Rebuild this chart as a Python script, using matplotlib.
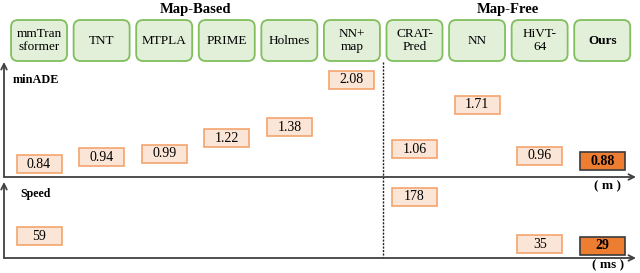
import matplotlib.pyplot as plt
from matplotlib.patches import Rectangle, FancyBboxPatch
from matplotlib.transforms import ScaledTranslation, blended_transform_factory

# ------------------------------------------------------------------------------------- #
# data
methods = ["mmTran\nsformer", "TNT", "MTPLA", "PRIME", "Holmes",
           "NN+\nmap", "CRAT-\nPred", "NN", "HiVT-\n64", "Ours"]
groups = ["Map-Based", "Map-Free"]
group_centers = [2.5, 7.5]
minade = [0.84, 0.94, 0.99, 1.22, 1.38, 2.08, 1.06, 1.71, 0.96, 0.88]
speed_idx = [0, 6, 8, 9]
speed = [59, 178, 35, 29]
ours = 9

# ------------------------------------------------------------------------------------- #
plt.rcParams['font.family'] = ['Liberation Serif', 'DejaVu Serif']

W, H = 640, 273
fig = plt.figure(figsize=(6.4, 2.73), dpi=100)

def fx(px):
    return px / W

def fy(py):
    return 1 - py / H

left, right = 4, 636
ax_top = fig.add_axes([fx(left), fy(177), fx(right - left), (177 - 62) / H])
ax_bot = fig.add_axes([fx(left), fy(258), fx(right - left), (258 - 182) / H])

xlim = (-0.56, 9.54)
ax_top.set_xlim(xlim)
ax_top.set_ylim(0.65, 2.34)
ax_bot.set_xlim(xlim)
ax_bot.set_ylim(-7.5, 223.5)

axis_col = '#404040'
for ax in (ax_top, ax_bot):
    ax.set_axis_off()
    ax.annotate('', xy=(0, 1), xytext=(0, 0), xycoords='axes fraction',
                arrowprops=dict(arrowstyle='->', color=axis_col, lw=1.3,
                                shrinkA=0, shrinkB=0))
    ax.annotate('', xy=(1, 0), xytext=(0, 0), xycoords='axes fraction',
                arrowprops=dict(arrowstyle='->', color=axis_col, lw=1.3,
                                shrinkA=0, shrinkB=0))

def value_box(ax, x, v, is_ours):
    # box size fixed in inches, placed at the data point
    w, h = 0.45, 0.18
    tr = fig.dpi_scale_trans + ScaledTranslation(x, v, ax.transData)
    if is_ours:
        fc, ec, weight = '#ed7d31', '#3a3a3a', 'bold'
    else:
        fc, ec, weight = '#fbe5d6', '#f4a46e', 'normal'
    ax.add_patch(Rectangle((-w / 2, -h / 2), w, h, transform=tr,
                           facecolor=fc, edgecolor=ec, lw=1.2, clip_on=False))
    ax.text(x, v, f"{v:g}" if isinstance(v, int) else f"{v:.2f}",
            ha='center', va='center', fontsize=10, fontweight=weight,
            color='black', clip_on=False)

for i, v in enumerate(minade):
    value_box(ax_top, i, v, i == ours)
for i, v in zip(speed_idx, speed):
    value_box(ax_bot, i, v, i == ours)

# header boxes
hdr = blended_transform_factory(ax_top.transData, fig.transFigure)
for i, name in enumerate(methods):
    tr = fig.dpi_scale_trans + ScaledTranslation(i, fy(40.5), hdr)
    bw, bh = 0.56, 0.41
    fig.add_artist(FancyBboxPatch((-bw / 2 + 0.05, -bh / 2 + 0.05), bw - 0.1, bh - 0.1,
                                  boxstyle='round,pad=0.05,rounding_size=0.07',
                                  transform=tr, facecolor='#e2efd9',
                                  edgecolor='#80bf5c', lw=1.3))
    fig.text(i, fy(40.5), name, transform=hdr, ha='center', va='center',
             fontsize=9.5, linespacing=1.15,
             fontweight='bold' if i == ours else 'normal')

for g, c in zip(groups, group_centers):
    fig.text(c, fy(9), g, transform=hdr, ha='center', va='center',
             fontsize=10.5, fontweight='bold')

# separator between map-based and map-free
ax_top.plot([5.5, 5.5], [fy(62), fy(258)], ls=(0, (1.5, 1)), color='#222222', lw=1.0,
            transform=hdr, clip_on=False)

fig.text(fx(13), fy(80), 'minADE', ha='left', va='center', fontsize=8.8, fontweight='bold')
fig.text(fx(20), fy(194), 'Speed', ha='left', va='center', fontsize=8.6, fontweight='bold')
fig.text(fx(608), fy(186), '( m )', ha='center', va='center', fontsize=9.5, fontweight='bold')
fig.text(fx(608), fy(265), '( ms )', ha='center', va='center', fontsize=9.5, fontweight='bold')

fig.savefig('out.png', dpi=100)
